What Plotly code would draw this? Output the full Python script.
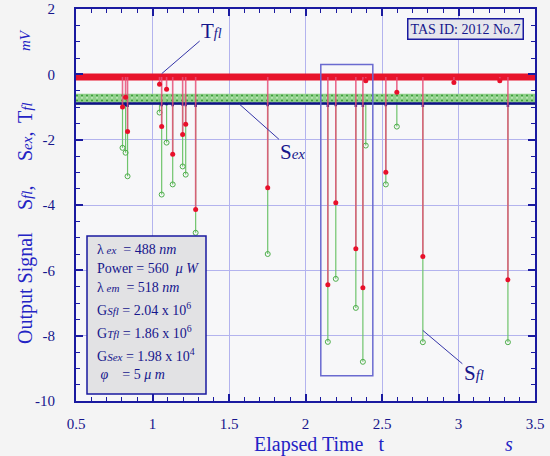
import plotly.graph_objects as go

# ---------------- data ----------------
event_t = [0.804, 0.824, 0.837, 1.046, 1.060, 1.092, 1.132, 1.197, 1.217, 1.282,
           1.753, 2.146, 2.198, 2.329, 2.375, 2.394, 2.525, 2.597, 2.767, 2.970,
           3.270, 3.323]
tfl_min = [-1.00, -0.70, -1.75, -0.30, -1.60, -0.46, -2.45, -1.84, -1.53, -4.14,
           -3.47, -6.44, -3.93, -5.34, -6.53, -0.20, -3.00, -0.55, -5.58, -0.25,
           -0.20, -6.29]
sfl_min = [-2.25, -2.40, -3.12, -1.17, -3.68, -2.09, -3.37, -2.82, -3.07, -4.85,
           -5.50, -8.19, -6.26, -7.15, -8.80, -2.18, -3.37, -1.60, -8.20, None,
           None, -8.20]
sex_min = [-1.00, -0.98, -1.00, -0.92, -0.98, -0.95, -0.98, -0.96, -0.98, -1.00,
           -0.98, -1.00, -0.98, -1.00, -1.00, -0.92, -0.98, -0.92, -1.00, -0.90,
           -0.90, -1.00]
tfl_base = -0.08
sfl_base = -0.76
sex_base = -0.89
t_range = [0.5, 3.5]

x_ticks = [0.5, 1, 1.5, 2, 2.5, 3, 3.5]
x_ticktext = ["0.5", "1", "1.5", "2", "2.5", "3", "3.5"]
y_ticks = [2, 0, -2, -4, -6, -8, -10]
y_ticktext = ["2", "0", "-2", "-4", "-6", "-8", "-10"]

info_lines = [
    "\u03bb<i><span style='font-size:11px'> ex</span></i>\u00a0\u00a0= 488 <i>nm</i>",
    "Power = 560 \u00a0<i>\u03bc W</i>",
    "\u03bb<i><span style='font-size:11px'> em</span></i>\u00a0\u00a0= 518 <i>nm</i>",
    "G<i><span style='font-size:11px'>Sfl</span></i> = 2.04 x 10<sup>6</sup>",
    "G<i><span style='font-size:11px'>Tfl</span></i> = 1.86 x 10<sup>6</sup>",
    "G<i><span style='font-size:11px'>Sex</span></i> = 1.98 x 10<sup>4</sup>",
    "\u00a0<i>\u03c6</i>\u00a0\u00a0\u00a0\u00a0= 5 <i>\u03bc m</i>",
]
highlight_box = dict(t0=2.10, t1=2.44, v0=0.30, v1=-9.23)

# ---------------- styling ----------------
W, H = 550, 456
ML, MR, MT, MB = 76, 15, 9, 55
PW, PH = W - ML - MR, H - MT - MB
NAVY = "#16168c"
BLUE = "#2323c4"
SERIF = "Liberation Serif, Times New Roman, serif"


def px(xp):
    return (xp - ML) / PW


def py(yp):
    return (H - MB - yp) / PH


fig = go.Figure()

# S_fl baseline band (dense open circles look)
fig.add_trace(go.Scatter(x=t_range, y=[sfl_base, sfl_base], mode="lines",
                         line=dict(color="#8fcf8a", width=11), hoverinfo="skip"))
for off, col in [(0.11, "#3f9f3c"), (0.04, "#c8ecc4"), (-0.04, "#3f9f3c"),
                 (-0.11, "#c8ecc4")]:
    fig.add_trace(go.Scatter(x=t_range, y=[sfl_base + off, sfl_base + off], mode="lines",
                             line=dict(color=col, width=1.4, dash="2px,3px"),
                             hoverinfo="skip"))

# green spikes
gx, gy, mx, my = [], [], [], []
for t, v in zip(event_t, sfl_min):
    if v is None:
        continue
    gx += [t, t, None]
    gy += [sfl_base, v, None]
    mx.append(t)
    my.append(v)
fig.add_trace(go.Scatter(x=gx, y=gy, mode="lines", line=dict(color="#6fc46c", width=1.2),
                         hoverinfo="skip"))
fig.add_trace(go.Scatter(x=mx, y=my, mode="markers",
                         marker=dict(symbol="circle-open", size=5, color="#4fae4c",
                                     line=dict(width=1)), hoverinfo="skip"))

# S_ex line
sx, sy = [t_range[0]], [sex_base]
for t, v in zip(event_t, sex_min):
    sx += [t, t, t]
    sy += [sex_base, v, sex_base]
sx.append(t_range[1])
sy.append(sex_base)
fig.add_trace(go.Scatter(x=sx, y=sy, mode="lines", line=dict(color="#101088", width=2.5),
                         hoverinfo="skip"))

# red band
fig.add_trace(go.Scatter(x=t_range, y=[tfl_base, tfl_base], mode="lines",
                         line=dict(color="#e8142c", width=7), hoverinfo="skip"))

# red spikes
rx, ry = [], []
for t, v in zip(event_t, tfl_min):
    rx += [t, t, None]
    ry += [tfl_base, v, None]
fig.add_trace(go.Scatter(x=rx, y=ry, mode="lines",
                         line=dict(color="rgba(230,80,120,0.85)", width=1.6),
                         hoverinfo="skip"))
fig.add_trace(go.Scatter(x=event_t, y=tfl_min, mode="markers",
                         marker=dict(symbol="circle", size=5, color="#e8102a"),
                         hoverinfo="skip"))

axis_common = dict(
    showline=True, linecolor="#1a1aa0", linewidth=2, mirror="ticks",
    ticks="inside", ticklen=7, tickwidth=1.5, tickcolor="#1a1aa0",
    showgrid=True, gridcolor="#b3b3ee", gridwidth=1, zeroline=False,
    tickfont=dict(family=SERIF, size=15, color=NAVY),
)

fig.update_layout(
    width=W, height=H,
    margin=dict(l=ML, r=MR, t=MT, b=MB, autoexpand=False),
    paper_bgcolor="#f4f4f4", plot_bgcolor="#f7f7f9",
    showlegend=False,
    xaxis=dict(range=t_range, tickvals=x_ticks, ticktext=x_ticktext,
               minor=dict(dtick=0.1, ticks="inside", ticklen=4, tickcolor="#1a1aa0",
                          tickwidth=1.2, showgrid=False),
               ticklabelstandoff=8, **axis_common),
    yaxis=dict(range=[-10, 2], tickvals=y_ticks, ticktext=y_ticktext,
               minor=dict(dtick=0.5, ticks="inside", ticklen=4, tickcolor="#1a1aa0",
                          tickwidth=1.2, showgrid=False),
               ticklabelstandoff=16, **axis_common),
)

# highlight rectangle
fig.add_shape(type="rect", xref="x", yref="y",
              x0=highlight_box["t0"], x1=highlight_box["t1"],
              y0=highlight_box["v0"], y1=highlight_box["v1"],
              line=dict(color="#6a6ad0", width=1.5))

# info box
fig.add_shape(type="rect", xref="paper", yref="paper",
              x0=px(87), x1=px(206), y0=py(394), y1=py(236),
              fillcolor="#e2e2e4", line=dict(color="#1a1aa0", width=1.5))
for line, yc in zip(info_lines, [249, 268, 287, 309, 332, 355, 374]):
    fig.add_annotation(text=line, xref="paper", yref="paper", x=px(95), y=py(yc),
                       xanchor="left", yanchor="middle", showarrow=False,
                       font=dict(family=SERIF, size=14, color=NAVY))

# TAS ID box
fig.add_annotation(text="TAS ID: 2012 No.7", xref="paper", yref="paper",
                   x=px(465), y=py(29.5), xanchor="center", yanchor="middle",
                   showarrow=False, bgcolor="#e6e6ec", bordercolor="#1a1aa0",
                   borderwidth=1.5, borderpad=2,
                   font=dict(family=SERIF, size=14, color=NAVY))

# series labels with leader lines
labels = [
    ("T<i><span style='font-size:14px'>fl</span></i>", 1.06, 0.02, 50, -43),
    ("S<i><span style='font-size:15px'>ex</span></i>", 1.565, -0.90, 54, 48),
    ("S<i><span style='font-size:15px'>fl</span></i>", 2.767, -7.84, 51, 43),
]
for txt, xa, ya, ax, ay in labels:
    fig.add_annotation(text=txt, x=xa, y=ya, ax=ax, ay=ay, showarrow=True,
                       arrowhead=0, arrowwidth=1, arrowcolor="#3434a8",
                       font=dict(family=SERIF, size=21, color=NAVY))

# y-axis title pieces
ytitles = [
    ("Output Signal", 288, 20),
    ("S<i><span style='font-size:15px'>fl</span></i>,", 198, 20),
    ("S<i><span style='font-size:15px'>ex</span></i>,", 147, 20),
    ("T<i><span style='font-size:15px'>fl</span></i>", 113, 20),
    ("<i>mV</i>", 40, 15),
]
for txt, yc, fs in ytitles:
    fig.add_annotation(text=txt, xref="paper", yref="paper", x=px(25), y=py(yc),
                       xanchor="center", yanchor="middle", textangle=-90,
                       showarrow=False, font=dict(family=SERIF, size=fs, color=BLUE))

# x-axis title
fig.add_annotation(text="Elapsed Time \u00a0\u00a0t", xref="paper", yref="paper",
                   x=px(319), y=py(444), xanchor="center", yanchor="middle",
                   showarrow=False, font=dict(family=SERIF, size=20, color=BLUE))
fig.add_annotation(text="<i>s</i>", xref="paper", yref="paper",
                   x=px(509), y=py(444), xanchor="center", yanchor="middle",
                   showarrow=False, font=dict(family=SERIF, size=20, color=BLUE))

fig.write_html("out.html",
               config={"displayModeBar": False},
               post_script="document.body.style.margin='0px';"
                           "document.body.style.overflow='hidden';")
